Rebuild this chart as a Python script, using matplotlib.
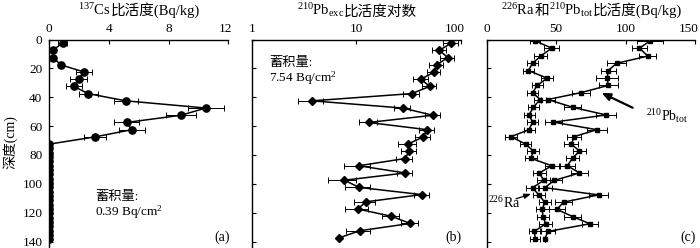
import numpy as np
import matplotlib
matplotlib.use("Agg")
import matplotlib.pyplot as plt
import matplotlib.transforms as mtransforms
from matplotlib.offsetbox import TextArea, HPacker, AnchoredOffsetbox

# --- fonts: serif latin, CJK fallback ---
plt.rcParams['font.family'] = ['Liberation Serif', 'Noto Sans CJK SC']
plt.rcParams['mathtext.fontset'] = 'custom'
plt.rcParams['mathtext.rm'] = 'Liberation Serif'
plt.rcParams['mathtext.it'] = 'Liberation Serif:italic'
plt.rcParams['font.size'] = 10

# ================================================================================
# DATA
# ================================================================================

# (a) 137Cs activity (Bq/kg) vs depth (cm)
cs_depth = [2.5, 7.5, 12.5, 17.5, 22.5, 27.5, 32.5, 37.5, 42.5, 47.5, 52.5, 57.5,
            62.5, 67.5, 72.5, 75.5, 78.5, 81.5, 84.5, 87.5, 90.5, 93.5, 96.5, 99.5,
            102.5, 105.5, 108.5, 111.5, 114.5, 117.5, 120.5, 123.5, 126.5, 129.5,
            132.5, 135.5, 138.5]
cs_value = [0.89, 0.22, 0.27, 0.76, 2.32, 1.97, 1.65, 2.61, 5.12, 10.5, 8.83, 5.18,
            5.54, 3.06, 0.0, 0, 0, 0, 0, 0, 0, 0, 0, 0, 0, 0, 0, 0, 0, 0, 0, 0, 0, 0,
            0, 0, 0]
cs_err = [0.28, 0, 0, 0, 0.55, 0.55, 0.52, 0.63, 0.8, 1.2, 1.0, 0.85,
          0.86, 0.75, 0, 0, 0, 0, 0, 0, 0, 0, 0, 0, 0, 0, 0, 0, 0, 0, 0, 0, 0, 0,
          0, 0, 0]

# (b) excess 210Pb activity (log scale)
pb_depth = [2.5, 7.5, 12.5, 17.5, 22.5, 27.5, 32.5, 37.5, 42.5, 47.5, 52.5, 57.5,
            62.5, 67.5, 72.5, 77.5, 82.5, 87.5, 92.5, 97.5, 102.5, 107.5, 112.5,
            117.5, 122.5, 127.5, 132.5, 137.5]
pb_exc = [81, 62.6, 75, 59, 56, 41.5, 50.5, 33.8, 3.75, 27.7, 54, 13.1,
          47.6, 43.8, 31, 32, 29.2, 10.5, 29.4, 7.65, 10.6, 42.3, 12.3,
          10.3, 21.6, 32.8, 10.8, 6.8]
pb_exc_err = [14, 10, 11, 9, 8, 7, 8, 6, 1.0, 5, 9, 2.6,
              8, 7, 6, 5, 5, 2.9, 5, 2.3, 2.8, 7, 2.8,
              2.5, 4, 6, 2.8, 0]

# (c) 226Ra and total 210Pb activity (Bq/kg)
c_depth = [1, 6, 11.5, 16.5, 21.5, 26.8, 31.8, 36.8, 41.6, 47, 52.3, 57.3, 62.5,
           67.3, 72.5, 77.3, 82.3, 87.5, 92.5, 97.7, 102.7, 107.7, 112.7, 117.7,
           122.7, 127.7, 133, 138]
ra_value = [35, 46.8, 38.8, 33, 30, 43.5, 36.5, 33, 38.5, 33.5, 30.5, 33, 30.5,
            17.5, 28, 33.5, 31.8, 46.8, 38, 41, 33, 37.5, 41.8, 40,
            40.5, 42.5, 34.3, 35]
ra_err = [3.5, 5.5, 4.5, 4, 4, 4.5, 4, 4, 4.5, 4, 4, 4, 4,
          4, 4, 4.5, 4.5, 5, 4.5, 4.5, 4.5, 4.5, 4.5, 4.5,
          4.5, 4.5, 4, 3.5]
pbtot_value = [117.5, 110, 116, 93.5, 87.5, 86.8, 87.5, 68, 44, 62, 86, 48, 79.3,
               63, 61, 66.8, 61.8, 58, 66.8, 48.5, 41.8, 80.5, 55.5, 50.5,
               61.8, 74.3, 44.3, 41.8]
pbtot_err = [9.5, 5.6, 6, 6.6, 5.4, 8, 7, 6.6, 5, 6, 7, 6, 7,
             5, 5, 5, 5, 5.5, 6, 5.5, 5, 7, 6, 6,
             6, 6, 5, 0]

# ================================================================================
# FIGURE
# ================================================================================

fig = plt.figure(figsize=(7.0, 2.48), dpi=100)

ax_bottom = 0.0
ax_h = 0.8407
ymax = 144.5
ax_a = fig.add_axes([0.0704, ax_bottom, 0.2557, ax_h])
ax_b = fig.add_axes([0.3604, ax_bottom, 0.2977, ax_h])
ax_c = fig.add_axes([0.6953, ax_bottom, 0.2976, ax_h])

ebar_kw = dict(ecolor='k', elinewidth=0.7, capsize=2.0, capthick=0.7)

# (a)
ax_a.errorbar(cs_value, cs_depth, xerr=cs_err, fmt='-o', color='k', lw=1.1,
              ms=5.2, **ebar_kw)
ax_a.set_xlim(0, 12)
ax_a.set_xticks([0, 4, 8, 12])

# (b)
ax_b.errorbar(pb_exc, pb_depth, xerr=pb_exc_err, fmt='-D', color='k', lw=1.1,
              ms=3.6, **ebar_kw)
ax_b.set_xscale('log')
ax_b.set_xlim(1, 100)
ax_b.set_xticks([1, 10, 100])
ax_b.set_xticklabels(['1', '10', '100'])
ax_b.xaxis.set_minor_locator(matplotlib.ticker.NullLocator())

# (c)
ax_c.errorbar(ra_value, c_depth, xerr=ra_err, fmt='-s', color='k', lw=1.1,
              ms=2.6, **ebar_kw)
ax_c.errorbar(pbtot_value, c_depth, xerr=pbtot_err, fmt='-s', color='k', lw=1.1,
              ms=2.6, **ebar_kw)
ax_c.set_xlim(0, 150)
ax_c.set_xticks([0, 50, 100, 150])

for ax in (ax_a, ax_b, ax_c):
    ax.set_ylim(ymax, 0)
    ax.set_yticks([0, 20, 40, 60, 80, 100, 120, 140])
    ax.xaxis.tick_top()
    ax.spines['right'].set_visible(False)
    ax.spines['bottom'].set_visible(False)
    ax.spines['top'].set_linewidth(1.0)
    ax.spines['left'].set_linewidth(1.0)
    ax.tick_params(direction='in', length=3, width=0.8, labelsize=9.5)
    ax.tick_params(axis='x', pad=3)
    ax.tick_params(axis='y', pad=5)
    ax.patch.set_alpha(0)
for ax in (ax_b, ax_c):
    ax.set_yticklabels([])

# last x tick label sits a little left of its tick, as in the reference
shift = mtransforms.ScaledTranslation(4 / 100, 0, fig.dpi_scale_trans)
for ax in (ax_a, ax_b, ax_c):
    lab = ax.get_xticklabels()[-1]
    lab.set_horizontalalignment('right')
    lab.set_transform(lab.get_transform() + shift)

# y label
fig.text(0.014, 0.427, '深度(cm)', rotation=90, ha='center', va='center', fontsize=10)

# titles built from pieces (math superscripts + CJK text)
def title(pieces, xc):
    boxes = [TextArea(p, textprops=dict(fontsize=10.5)) for p in pieces]
    pack = HPacker(children=boxes, align='baseline', pad=0, sep=0)
    ab = AnchoredOffsetbox(loc='center', child=pack, pad=0, borderpad=0, frameon=False,
                           bbox_to_anchor=(xc, 0.958), bbox_transform=fig.transFigure)
    fig.add_artist(ab)

title([r'$^{137}$Cs', '比活度(Bq/kg)'], 0.198)
title([r'$^{210}$Pb$_{\mathrm{exc}}$', '比活度对数'], 0.5096)
title([r'$^{226}$Ra', '和', r'$^{210}$Pb$_{\mathrm{tot}}$', '比活度(Bq/kg)'], 0.845)

# inventory notes (baselines as in the reference)
ax_a.text(0.255, 0.228, '蓄积量:', transform=ax_a.transAxes, ha='left', va='baseline',
          fontsize=9.5)
ax_a.text(0.255, 0.155, r'0.39 Bq/cm$^2$', transform=ax_a.transAxes, ha='left',
          va='baseline', fontsize=9.5)
ax_b.text(0.08, 0.872, '蓄积量:', transform=ax_b.transAxes, ha='left', va='baseline',
          fontsize=9.5)
ax_b.text(0.08, 0.800, r'7.54 Bq/cm$^2$', transform=ax_b.transAxes, ha='left',
          va='baseline', fontsize=9.5)

# panel labels
for ax, lab in ((ax_a, '(a)'), (ax_b, '(b)'), (ax_c, '(c)')):
    ax.text(0.965, 0.053, lab, transform=ax.transAxes, ha='center', va='center',
            fontsize=10, clip_on=False)

# arrows in (c)
ax_c.annotate('', xy=(82.8, 37), xytext=(105.1, 47.3),
              arrowprops=dict(arrowstyle='-|>,head_length=0.5,head_width=0.22',
                              lw=1.6, color='k', shrinkA=0, shrinkB=0))
ax_c.text(114.7, 53.3, r'$^{210}$Pb$_{\mathrm{tot}}$', ha='left', va='center', fontsize=10)
ax_c.annotate('', xy=(31.9, 107), xytext=(21.1, 110.4),
              arrowprops=dict(arrowstyle='-|>,head_length=0.4,head_width=0.15',
                              lw=0.9, color='k', shrinkA=0, shrinkB=0))
ax_c.text(0.9, 113.1, r'$^{226}$Ra', ha='left', va='center', fontsize=10)

fig.savefig('out.png', dpi=100)
